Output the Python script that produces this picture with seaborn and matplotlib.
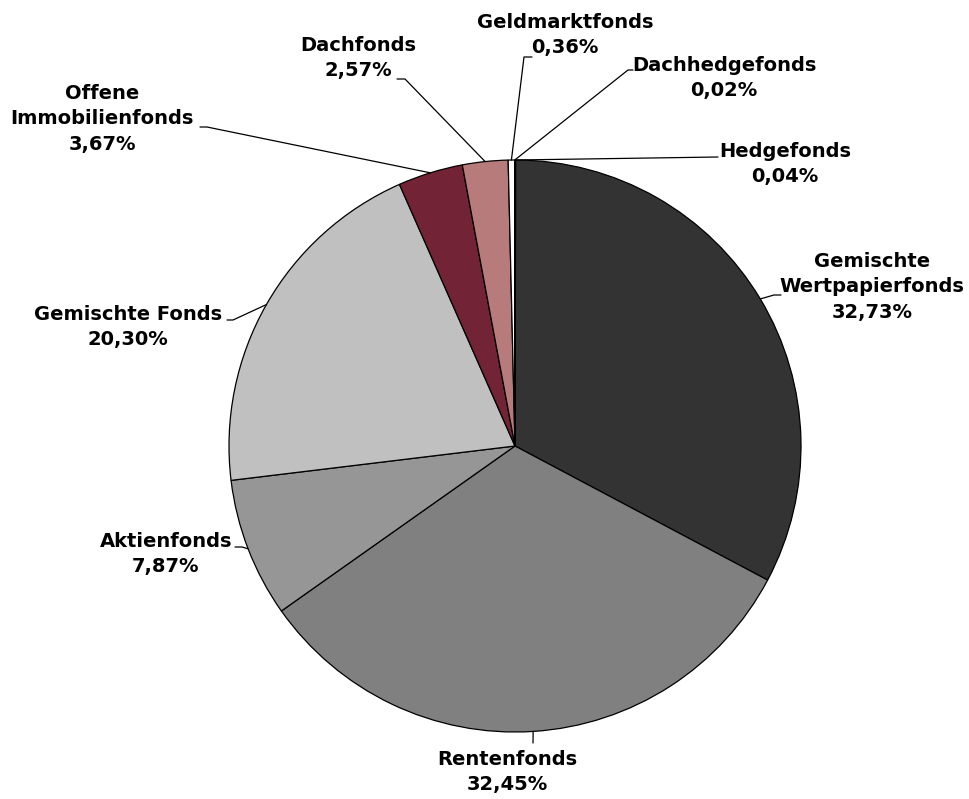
import matplotlib
matplotlib.use("Agg")
import numpy as np
import matplotlib.pyplot as plt
import seaborn as sns

# data
categories = ["Hedgefonds", "Gemischte\nWertpapierfonds", "Rentenfonds", "Aktienfonds",
              "Gemischte Fonds", "Offene\nImmobilienfonds", "Dachfonds", "Geldmarktfonds",
              "Dachhedgefonds"]
shares = [0.04, 32.73, 32.45, 7.87, 20.30, 3.67, 2.57, 0.36, 0.02]
colors = ["#404040", "#333333", "#808080", "#969696", "#C0C0C0", "#722436", "#B77B7B",
          "#FFFFFF", "#202020"]

# label layout in pixels: text centre, leader elbow, leader tick end
W, H, DPI = 970, 799, 100
CX, CY, R = 515, 446, 286
label_layout = {
    "Hedgefonds": ((785, 164), (718, 157), (718, 157)),
    "Gemischte\nWertpapierfonds": ((872, 287), (774, 295), (781, 295)),
    "Rentenfonds": ((507, 772), (533, 743), (533, 743)),
    "Aktienfonds": ((166, 554), (242, 547), (235, 547)),
    "Gemischte Fonds": ((128, 327), (233, 320), (227, 320)),
    "Offene\nImmobilienfonds": ((102, 119), (207, 127), (200, 127)),
    "Dachfonds": ((358, 58), (405, 79), (397, 79)),
    "Geldmarktfonds": ((565, 35), (524, 57), (532, 57)),
    "Dachhedgefonds": ((724, 78), (628, 70), (633, 70)),
}


def px(x, y):
    return (x - CX) / R, (CY - y) / R


sns.set_theme(style="white")
plt.rcParams["font.family"] = ["DejaVu Sans"]

fig = plt.figure(figsize=(W / DPI, H / DPI), dpi=DPI)
ax = fig.add_axes([0, 0, 1, 1])
wedges, _ = ax.pie(shares, colors=colors, startangle=90, counterclock=False,
                   radius=1, center=(0, 0),
                   wedgeprops=dict(edgecolor="black", linewidth=0.9))

for w, name, val in zip(wedges, categories, shares):
    mid = np.deg2rad((w.theta1 + w.theta2) / 2)
    sx, sy = np.cos(mid), np.sin(mid)
    (tx, ty), elbow, tick = label_layout[name]
    ex, ey = px(*elbow)
    kx, ky = px(*tick)
    ax.plot([sx, ex, kx], [sy, ey, ky], color="black", lw=0.9)
    txt = name + "\n" + f"{val:.2f}".replace(".", ",") + "%"
    ax.text(*px(tx, ty), txt, ha="center", va="center", fontsize=14,
            fontweight="bold", color="black", linespacing=1.42)

ax.axis("off")
ax.set_aspect("auto")
ax.set_xlim((0 - CX) / R, (W - CX) / R)
ax.set_ylim((CY - H) / R, CY / R)

fig.savefig("out.png", dpi=DPI, facecolor="white")
